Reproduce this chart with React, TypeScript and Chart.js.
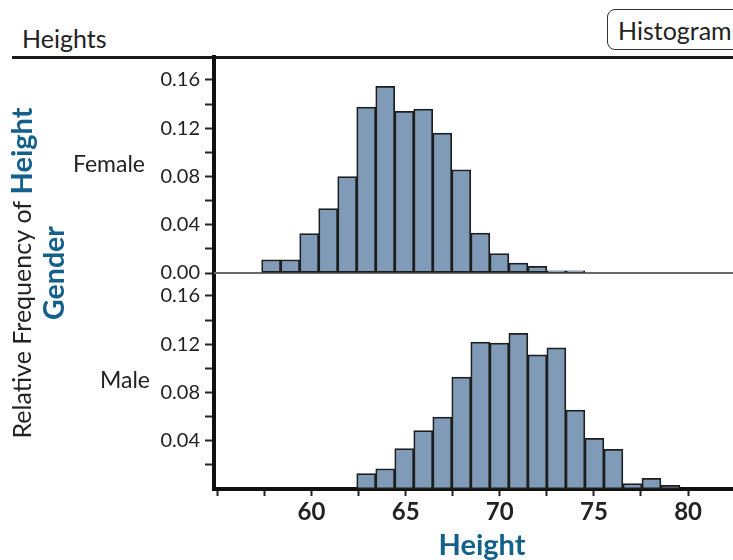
import React, { useEffect, useRef } from "react";
import { Chart, registerables } from "chart.js";

Chart.register(...registerables);

const FONT = "Lato, 'Open Sans', sans-serif";
const BLUE = "#14608c";
const INK = "#222222";
const BAR_FILL = "#7f9bb7";
const BAR_EDGE = "#1e1e1e";

const TITLE = "Heights";
const BUTTON_TEXT = "Histogram";
const PANELS = ["Female", "Male"];
const Y_TITLE_MAIN = "Relative Frequency of ";
const Y_TITLE_VAR = "Height";
const Y_TITLE_GROUP = "Gender";
const X_TITLE = "Height";

// histogram bin centres
const FEMALE_BINS = [
  57.855, 58.865, 59.875, 60.885, 61.895, 62.905, 63.915, 64.925, 65.935,
  66.945, 67.955, 68.965, 69.975, 70.985, 71.995, 73.005, 74.015,
];
const FEMALE_FREQ = [
  0.011, 0.011, 0.0326, 0.0533, 0.08, 0.1375, 0.1546, 0.134, 0.1358, 0.116,
  0.0856, 0.033, 0.016, 0.0083, 0.0055, 0.0018, 0.0018,
];
const MALE_BINS = [
  62.905, 63.915, 64.925, 65.935, 66.945, 67.955, 68.965, 69.975, 70.985,
  71.995, 73.005, 74.015, 75.025, 76.035, 77.045, 78.055, 79.065,
];
const MALE_FREQ = [
  0.0127, 0.0168, 0.0334, 0.0485, 0.0596, 0.0928, 0.1217, 0.1209, 0.129,
  0.1112, 0.117, 0.0654, 0.042, 0.0329, 0.0045, 0.0088, 0.003,
];

const X_TICK_VALUES = [55, 57.5, 60, 62.5, 65, 67.5, 70, 72.5, 75, 77.5, 80, 82.5];
const X_TICK_LABELS = ["", "", "60", "", "65", "", "70", "", "75", "", "80", ""];
const FEMALE_Y_TICKS = [0, 0.02, 0.04, 0.06, 0.08, 0.1, 0.12, 0.14, 0.16];
const FEMALE_Y_LABELS = ["0.00", "", "0.04", "", "0.08", "", "0.12", "", "0.16"];
const MALE_Y_TICKS = [0.02, 0.04, 0.06, 0.08, 0.1, 0.12, 0.14, 0.16];
const MALE_Y_LABELS = ["", "0.04", "", "0.08", "", "0.12", "", "0.16"];

const X_MIN = 54.82;
const X_MAX = 83.29;
const Y_MAX = 0.179;

const sidePlugin = {
  id: "sideLabels",
  beforeDatasetsDraw(chart: any) {
    const { ctx, chartArea } = chart;
    const yF = chart.scales.yF;
    const y0 = yF.getPixelForValue(0);
    ctx.save();
    ctx.strokeStyle = "#6a6a6a";
    ctx.lineWidth = 2;
    ctx.beginPath();
    ctx.moveTo(chartArea.left, y0);
    ctx.lineTo(chartArea.right, y0);
    ctx.stroke();
    ctx.restore();
  },
  afterDraw(chart: any) {
    const { ctx, chartArea } = chart;
    const yF = chart.scales.yF;
    const yM = chart.scales.yM;
    ctx.save();
    ctx.fillStyle = INK;
    ctx.textAlign = "right";
    ctx.textBaseline = "middle";
    ctx.font = `23px ${FONT}`;
    ctx.fillText(PANELS[0], 145, (yF.top + yF.bottom) / 2);
    ctx.fillText(PANELS[1], 150, (yM.top + yM.bottom) / 2);

    const cy = (chartArea.top + chartArea.bottom) / 2;
    ctx.save();
    ctx.translate(23, cy);
    ctx.rotate(-Math.PI / 2);
    ctx.textAlign = "left";
    const fMain = `25px ${FONT}`;
    const fVar = `bold 29px ${FONT}`;
    ctx.font = fMain;
    const w1 = ctx.measureText(Y_TITLE_MAIN).width;
    ctx.font = fVar;
    const w2 = ctx.measureText(Y_TITLE_VAR).width;
    const start = -(w1 + w2) / 2;
    ctx.font = fMain;
    ctx.fillStyle = INK;
    ctx.fillText(Y_TITLE_MAIN, start, 0);
    ctx.font = fVar;
    ctx.fillStyle = BLUE;
    ctx.fillText(Y_TITLE_VAR, start + w1, 0);
    ctx.restore();

    ctx.save();
    ctx.translate(55, cy);
    ctx.rotate(-Math.PI / 2);
    ctx.textAlign = "center";
    ctx.font = `bold 28.5px ${FONT}`;
    ctx.fillStyle = BLUE;
    ctx.fillText(Y_TITLE_GROUP, 0, 0);
    ctx.restore();
    ctx.restore();
  },
};

const yScale = (ticks: number[], labels: string[], weight: number) => ({
  type: "linear",
  position: "left",
  stack: "gender",
  stackWeight: 1,
  weight,
  min: 0,
  max: Y_MAX,
  afterFit: (s: any) => {
    s.width = 214;
  },
  afterBuildTicks: (s: any) => {
    s.ticks = ticks.map((v) => ({ value: v }));
  },
  ticks: {
    autoSkip: false,
    padding: 5,
    color: INK,
    font: { size: 20 },
    callback: (_v: any, i: number) => labels[i],
  },
  grid: {
    drawOnChartArea: false,
    tickLength: 9,
    tickWidth: 2,
    tickColor: INK,
  },
  border: { display: true, width: 4, color: "#111111" },
});

export default function App() {
  const canvasRef = useRef<HTMLCanvasElement | null>(null);

  useEffect(() => {
    const canvas = canvasRef.current;
    if (!canvas) return;
    Chart.defaults.font.family = FONT;

    const barStyle = {
      backgroundColor: BAR_FILL,
      borderColor: BAR_EDGE,
      borderWidth: 1.75,
      borderSkipped: false as const,
      barPercentage: 1,
      categoryPercentage: 1,
      grouped: false,
    };

    const chart = new Chart(canvas, {
      type: "bar",
      data: {
        datasets: [
          {
            label: PANELS[0],
            data: FEMALE_BINS.map((x, i) => ({ x, y: FEMALE_FREQ[i] })),
            yAxisID: "yF",
            ...barStyle,
          },
          {
            label: PANELS[1],
            data: MALE_BINS.map((x, i) => ({ x, y: MALE_FREQ[i] })),
            yAxisID: "yM",
            ...barStyle,
          },
        ],
      },
      plugins: [sidePlugin],
      options: {
        animation: false,
        responsive: false,
        maintainAspectRatio: false,
        layout: { padding: { top: 57, left: 0, right: 0, bottom: 0 } },
        plugins: {
          legend: { display: false },
          tooltip: { enabled: false },
          title: { display: false },
        },
        scales: {
          x: {
            type: "linear",
            min: X_MIN,
            max: X_MAX,
            offset: false,
            afterFit: (s: any) => {
              s.height = 71;
            },
            afterBuildTicks: (s: any) => {
              s.ticks = X_TICK_VALUES.map((v) => ({ value: v }));
            },
            ticks: {
              autoSkip: false,
              maxRotation: 0,
              padding: 2,
              color: INK,
              font: { size: 24, weight: "bold" },
              callback: (_v: any, i: number) => X_TICK_LABELS[i],
            },
            grid: {
              drawOnChartArea: false,
              offset: false,
              tickLength: 7,
              tickWidth: 2,
              tickColor: INK,
            },
            border: { display: true, width: 4, color: "#111111" },
            title: {
              display: true,
              text: X_TITLE,
              color: BLUE,
              font: { size: 29, weight: "bold", lineHeight: 1 },
              padding: { top: 0, bottom: 0 },
            },
          },
          yF: yScale(FEMALE_Y_TICKS, FEMALE_Y_LABELS, 2),
          yM: yScale(MALE_Y_TICKS, MALE_Y_LABELS, 1),
        },
      } as any,
    });

    return () => chart.destroy();
  }, []);

  return (
    <div
      style={{
        position: "fixed",
        left: 0,
        top: 0,
        width: 733,
        height: 560,
        overflow: "hidden",
        background: "#ffffff",
        fontFamily: FONT,
        color: INK,
      }}
    >
      <div
        style={{
          position: "absolute",
          left: 22,
          top: 26,
          fontSize: 25,
          lineHeight: "25px",
          whiteSpace: "nowrap",
        }}
      >
        {TITLE}
      </div>
      <div
        style={{
          position: "absolute",
          left: 607,
          top: 9,
          width: 150,
          height: 39,
          border: "1.5px solid #333",
          borderRadius: 8,
          display: "flex",
          alignItems: "center",
          paddingLeft: 10,
          fontSize: 25,
          whiteSpace: "nowrap",
          boxSizing: "content-box",
        }}
      >
        {BUTTON_TEXT}
      </div>
      <div
        style={{
          position: "absolute",
          left: 12,
          top: 56,
          width: 721,
          height: 3,
          background: "#1a1a1a",
        }}
      />
      <canvas
        ref={canvasRef}
        width={750}
        height={560}
        style={{ position: "absolute", left: 0, top: 0 }}
      />
    </div>
  );
}
